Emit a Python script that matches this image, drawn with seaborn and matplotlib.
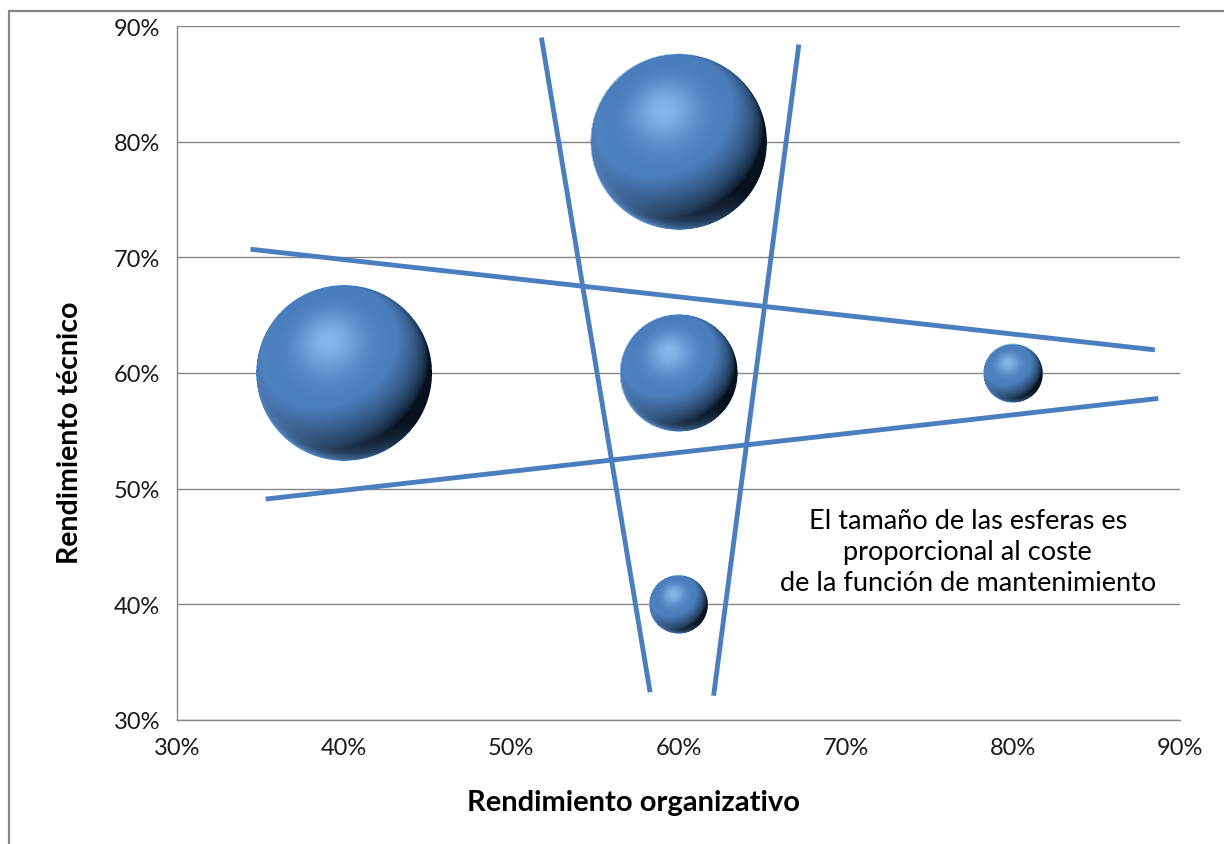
import numpy as np
import pandas as pd
import matplotlib
matplotlib.use("Agg")
import matplotlib.pyplot as plt
from matplotlib.colors import to_rgb
from matplotlib.offsetbox import OffsetImage, AnnotationBbox
from matplotlib.patches import Rectangle
import seaborn as sns

# --- data -------------------------------------------------------------
organizativo = [0.40, 0.60, 0.60, 0.80, 0.60]   # x: rendimiento organizativo
tecnico = [0.60, 0.80, 0.60, 0.60, 0.40]         # y: rendimiento técnico
coste = [9, 9, 4, 1, 1]                          # coste de la función de mantenimiento

tick_values = [0.3, 0.4, 0.5, 0.6, 0.7, 0.8, 0.9]
tick_labels = ["30%", "40%", "50%", "60%", "70%", "80%", "90%"]

# hand-drawn guide lines (start, end)
guia_x = [[0.518, 0.583], [0.672, 0.621], [0.344, 0.885], [0.353, 0.887]]
guia_y = [[0.890, 0.324], [0.884, 0.321], [0.707, 0.620], [0.491, 0.578]]

nota = "El tamaño de las esferas es\nproporcional al coste\nde la función de mantenimiento"

df = pd.DataFrame({"org": organizativo, "tec": tecnico, "coste": coste})

# --- style ------------------------------------------------------------
sns.set_style("white")
plt.rcParams["font.family"] = ["Lato", "DejaVu Sans"]

W, H, DPI = 1224, 845, 100
fig = plt.figure(figsize=(W / DPI, H / DPI), dpi=DPI)
ax = fig.add_axes([177 / W, 1 - 721 / H, (1180 - 177) / W, (721 - 27) / H])

GRID = "#868686"
BLUE = "#4F81BD"
R_UNIT = 29.3  # sphere radius in pixels for coste == 1


def radius_px(c):
    return R_UNIT * np.sqrt(c)


# base bubbles (area proportional to cost)
s_of = lambda c: (2 * radius_px(c) * 72 / DPI) ** 2
sns.scatterplot(data=df, x="org", y="tec", size="coste",
                sizes=(s_of(min(coste)), s_of(max(coste))),
                size_norm=(min(coste), max(coste)),
                color=BLUE, edgecolor="none", legend=False, ax=ax, zorder=3)


def sphere_image(r):
    """Shaded sphere of radius r pixels as an RGBA array."""
    n = int(np.ceil(2 * r)) + 2
    ss = 3
    m = n * ss
    g = (np.arange(m) + 0.5) / ss - n / 2
    X, Y = np.meshgrid(g / r, -g / r)
    rr = X ** 2 + Y ** 2
    inside = rr <= 1.0
    Z = np.sqrt(np.clip(1 - rr, 0, 1))
    L = np.array([-0.28, 0.50, 0.82]); L /= np.linalg.norm(L)
    Hv = np.array([-0.17, 0.36, 0.917]); Hv /= np.linalg.norm(Hv)
    d = np.clip(X * L[0] + Y * L[1] + Z * L[2], 0, 1)
    dark = np.array(to_rgb("#07111c"))
    mid = np.array(to_rgb("#4a7dbb"))
    light = np.array(to_rgb("#9fd0ff"))
    w = np.clip(d / 0.6, 0, 1) ** 0.75
    col = dark * (1 - w[..., None]) + mid * w[..., None]
    # soft rim reflection at lower-left
    rim = np.clip(-0.6 * X - 0.8 * Y, 0, 1) * np.clip(1 - Z, 0, 1) ** 1.5
    col = col + (np.array(to_rgb("#5d91d2")) - col) * np.clip(1.2 * rim, 0, 1)[..., None]
    spec = np.clip(X * Hv[0] + Y * Hv[1] + Z * Hv[2], 0, 1) ** 14
    col = col + (light - col) * (0.7 * spec[..., None])
    rgba = np.zeros((m, m, 4))
    rgba[..., :3] = col
    rgba[..., 3] = inside.astype(float)
    rgba = rgba.reshape(n, ss, n, ss, 4).mean(axis=(1, 3))
    a = rgba[..., 3:4]
    rgba[..., :3] = np.where(a > 0, rgba[..., :3] / np.maximum(a, 1e-6), 0)
    return rgba


for x, y, c in zip(organizativo, tecnico, coste):
    img = OffsetImage(sphere_image(radius_px(c)), zoom=1, dpi_cor=False)
    ab = AnnotationBbox(img, (x, y), xycoords="data", frameon=False,
                        pad=0, box_alignment=(0.5, 0.5), zorder=4)
    ax.add_artist(ab)

# guide lines
for gx, gy in zip(guia_x, guia_y):
    ax.plot(gx, gy, color="#4a7ebf", lw=3.5, solid_capstyle="butt",
            zorder=5, clip_on=False)

# axes
ax.set_xlim(0.3, 0.9)
ax.set_ylim(0.3, 0.9)
ax.set_xticks(tick_values)
ax.set_xticklabels(tick_labels)
ax.set_yticks(tick_values)
ax.set_yticklabels(tick_labels)
ax.tick_params(axis="both", which="major", direction="out", length=6,
               width=1, color=GRID, labelsize=17, labelcolor="#1a1a1a", pad=6)
ax.yaxis.grid(True, color=GRID, lw=1)
ax.xaxis.grid(False)
ax.set_axisbelow(True)
for side in ["top", "right"]:
    ax.spines[side].set_visible(False)
for side in ["left", "bottom"]:
    ax.spines[side].set_color(GRID)
    ax.spines[side].set_linewidth(1)

ax.set_xlabel("Rendimiento organizativo", fontsize=21, fontweight="bold",
              color="#000000")
ax.set_ylabel("Rendimiento técnico", fontsize=20.5, fontweight="bold",
              color="#000000")
ax.xaxis.set_label_coords(0.455, -0.118)
ax.yaxis.set_label_coords(-0.107, 0.416)
ax.xaxis.label.set_va("center")
ax.yaxis.label.set_va("center")

ax.text(0.773, 0.446, nota, ha="center", va="center", multialignment="center",
        fontsize=19.5, linespacing=1.3, color="#000000", zorder=6)

# chart frame
fig.add_artist(Rectangle((9 / W, -0.2), 1.2, 1.2 - 12 / H + 0.0,
                         transform=fig.transFigure, fill=False,
                         edgecolor=GRID, lw=1.6))

fig.savefig("out.png", dpi=DPI, facecolor="white")
